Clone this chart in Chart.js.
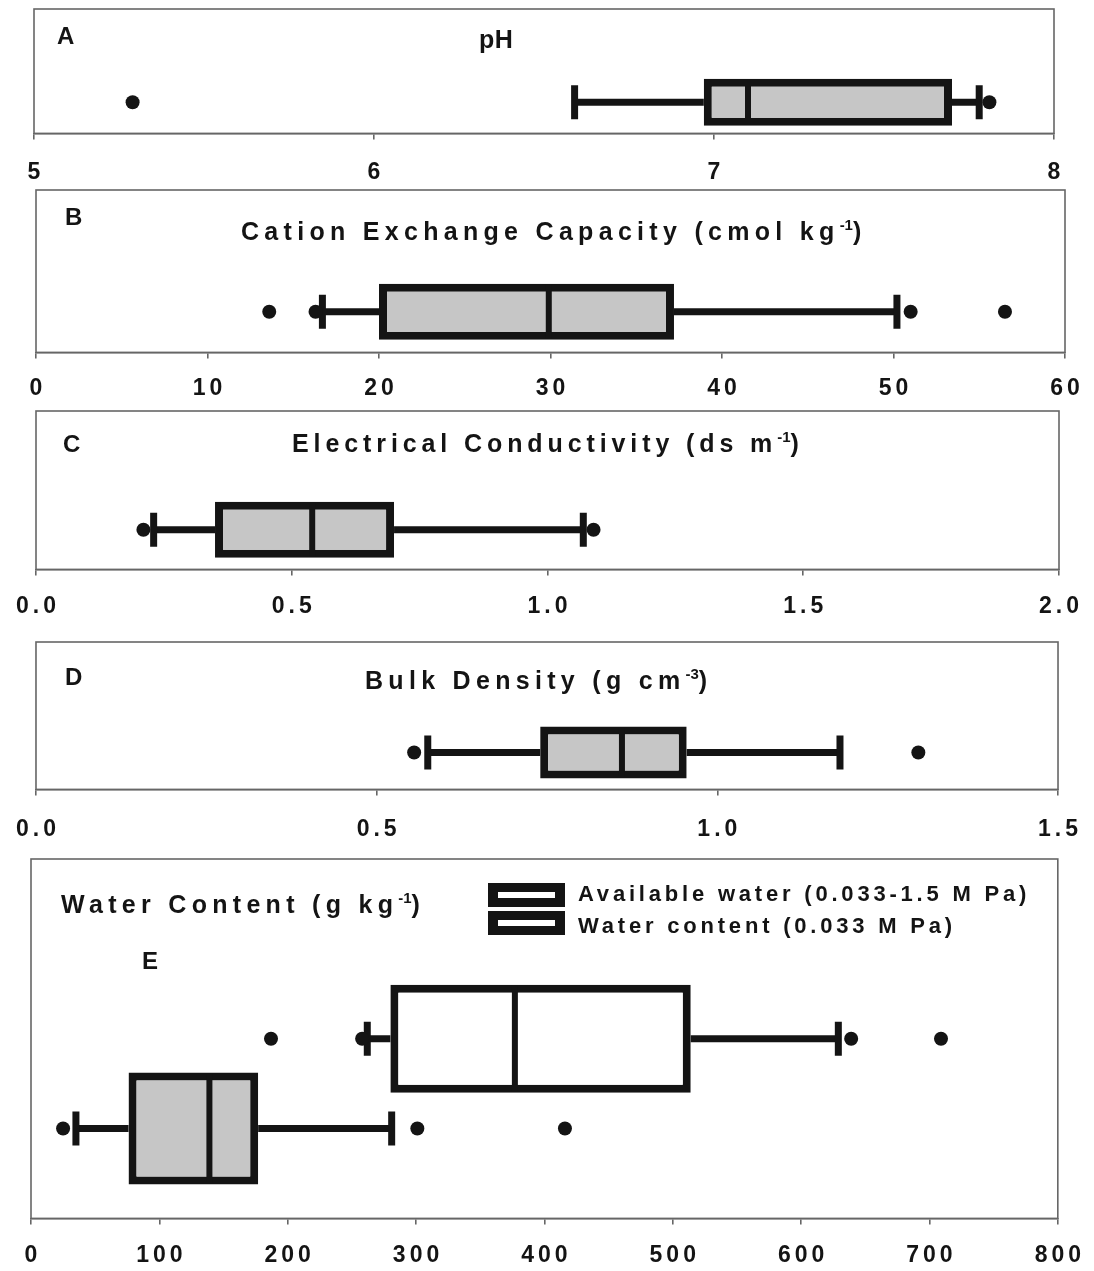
<!DOCTYPE html>
<html lang="en">
<head>
<meta charset="utf-8">
<title>Soil properties – box plots</title>
<script src="https://cdn.jsdelivr.net/npm/chart.js@4.4.1/dist/chart.umd.min.js"></script>
<style>
  html, body { margin: 0; padding: 0; background: #fff; }
  body {
    position: relative; width: 1094px; height: 1271px; overflow: hidden;
    font-family: "Liberation Sans", Arial, sans-serif; font-weight: bold; color: #141414;
  }
  canvas { position: absolute; left: 0; }
  .title { position: absolute; font-size: 25px; line-height: 25px; letter-spacing: 5.3px; white-space: nowrap; }
  .letter { position: absolute; font-size: 24px; line-height: 24px; white-space: nowrap; }
  .key { position: absolute; font-size: 22px; line-height: 22px; letter-spacing: 3.8px; white-space: nowrap; }
  sup { font-size: 15px; line-height: 0; vertical-align: 0; position: relative; top: -10px; letter-spacing: 0; }
  .swatch {
    position: absolute; left: 488px; width: 57px; height: 6px; background: #fff;
    border: 9px solid #141414; border-left-width: 10px; border-right-width: 10px;
  }
</style>
</head>
<body>
<canvas id="chartA"></canvas>
<canvas id="chartB"></canvas>
<canvas id="chartC"></canvas>
<canvas id="chartD"></canvas>
<canvas id="chartE"></canvas>

<div class="letter" style="left:57px;top:24px">A</div>
<div class="title" style="left:479px;top:27px;letter-spacing:0.5px">pH</div>

<div class="letter" style="left:65px;top:205px">B</div>
<div class="title" style="left:241px;top:219px">Cation Exchange Capacity (cmol kg<sup>-1</sup>)</div>

<div class="letter" style="left:63px;top:432px">C</div>
<div class="title" style="left:292px;top:431px;letter-spacing:4.9px">Electrical Conductivity (ds m<sup>-1</sup>)</div>

<div class="letter" style="left:65px;top:665px">D</div>
<div class="title" style="left:365px;top:668px">Bulk Density (g cm<sup>-3</sup>)</div>

<div class="title" style="left:61px;top:892px">Water Content (g kg<sup>-1</sup>)</div>
<div class="letter" style="left:142px;top:949px">E</div>

<div class="swatch" style="top:883px"></div>
<div class="key" style="left:578px;top:883px">Available water (0.033-1.5 M Pa)</div>
<div class="swatch" style="top:911px"></div>
<div class="key" style="left:578px;top:915px">Water content (0.033 M Pa)</div>

<script>
// ---- data -------------------------------------------------------------
// A: pH
const phTicks = [5, 6, 7, 8];
const phTickLabels = ['5', '6', '7', '8'];
const phWhiskers = [6.59, 7.78];          // lower / upper whisker ends
const phQuartiles = [6.97, 7.10, 7.70];   // Q1, median, Q3
const phOutliers = [5.29, 7.81];

// B: cation exchange capacity (cmol kg-1)
const cecTicks = [0, 10, 20, 30, 40, 50, 60];
const cecTickLabels = ['0', '10', '20', '30', '40', '50', '60'];
const cecWhiskers = [16.7, 50.2];
const cecQuartiles = [20.0, 29.9, 37.2];
const cecOutliers = [13.6, 16.3, 51.0, 56.5];

// C: electrical conductivity (ds m-1)
const ecTicks = [0, 0.5, 1.0, 1.5, 2.0];
const ecTickLabels = ['0.0', '0.5', '1.0', '1.5', '2.0'];
const ecWhiskers = [0.23, 1.07];
const ecQuartiles = [0.35, 0.54, 0.70];
const ecOutliers = [0.21, 1.09];

// D: bulk density (g cm-3)
const bdTicks = [0, 0.5, 1.0, 1.5];
const bdTickLabels = ['0.0', '0.5', '1.0', '1.5'];
const bdWhiskers = [0.575, 1.18];
const bdQuartiles = [0.74, 0.86, 0.955];
const bdOutliers = [0.555, 1.295];

// E: water content (g kg-1)
const waterTicks = [0, 100, 200, 300, 400, 500, 600, 700, 800];
const waterTickLabels = ['0', '100', '200', '300', '400', '500', '600', '700', '800'];
// water content at 0.033 MPa
const wcWhiskers = [262, 629];
const wcQuartiles = [280, 377, 514];
const wcOutliers = [187, 258, 639, 709];
// available water (0.033-1.5 MPa)
const awWhiskers = [35, 281];
const awQuartiles = [76, 139, 177];
const awOutliers = [25, 301, 416];

// ---- styling ----------------------------------------------------------
const INK = '#141414';
const FRAME = '#666666';
const SHADE = '#c6c6c6';
const FONT = '"Liberation Sans", Arial, sans-serif';

// draws the rectangle around each plot area
const framePlugin = {
  id: 'frame',
  beforeDatasetsDraw(chart) {
    const { ctx, chartArea: a } = chart;
    ctx.save();
    ctx.strokeStyle = FRAME;
    ctx.lineWidth = 1.6;
    ctx.strokeRect(a.left, a.top, a.right - a.left, a.bottom - a.top);
    ctx.restore();
  }
};

// wider spacing for the axis numerals
const spacingPlugin = {
  id: 'tickSpacing',
  beforeDraw(chart) { chart.ctx.letterSpacing = '4px'; }
};

// one horizontal box plot: whiskers, box, median bar, caps, outliers
function boxSeries(row, whiskers, quartiles, outliers, fill, thickness) {
  const [lo, hi] = whiskers;
  const [q1, med, q3] = quartiles;
  const whisker = (a, b) => ({
    type: 'line', data: [{ x: a, y: row }, { x: b, y: row }],
    borderColor: INK, borderWidth: 7, pointRadius: 0, pointHitRadius: 0,
    showLine: true, fill: false, tension: 0, order: 3
  });
  return [
    whisker(lo, q1),
    whisker(q3, hi),
    {
      type: 'bar', indexAxis: 'y', grouped: false, barThickness: thickness,
      data: [{ x: [q1, q3], y: row }],
      backgroundColor: fill, borderColor: INK, borderWidth: 8, borderSkipped: false,
      inflateAmount: 0, order: 2
    },
    {
      // median
      type: 'scatter', data: [{ x: med, y: row }],
      pointStyle: 'line', pointRotation: 90, pointRadius: thickness / 2 - 2,
      pointBorderWidth: 6, pointBorderColor: INK, pointBackgroundColor: INK, order: 1
    },
    {
      // whisker caps
      type: 'scatter', data: [{ x: lo, y: row }, { x: hi, y: row }],
      pointStyle: 'line', pointRotation: 90, pointRadius: 17,
      pointBorderWidth: 7, pointBorderColor: INK, pointBackgroundColor: INK, order: 1
    },
    {
      type: 'scatter', data: outliers.map(v => ({ x: v, y: row })),
      pointStyle: 'circle', pointRadius: 7, pointBorderWidth: 0,
      pointBackgroundColor: INK, pointBorderColor: INK, order: 0
    }
  ];
}

function makePanel(id, frame, range, tickValues, tickLabels, labelGap, datasets) {
  const padTop = 8, tickLength = 6, tickSize = 23;
  const axisHeight = tickLength + 2 * labelGap + tickSize * 1.2;
  const h = Math.round(frame.b - frame.t + padTop + axisHeight);
  const canvas = document.getElementById(id);
  canvas.width = 1094;
  canvas.height = h;
  canvas.style.width = '1094px';
  canvas.style.height = h + 'px';
  canvas.style.top = (frame.t - padTop) + 'px';

  return new Chart(canvas, {
    type: 'scatter',
    data: { datasets },
    options: {
      responsive: false,
      animation: false,
      events: [],
      layout: { autoPadding: false, padding: { left: frame.l, right: 1094 - frame.r, top: padTop, bottom: 0 } },
      plugins: { legend: { display: false }, tooltip: { enabled: false } },
      scales: {
        x: {
          type: 'linear', min: range[0], max: range[1], offset: false,
          afterBuildTicks: s => { s.ticks = tickValues.map(v => ({ value: v })); },
          ticks: {
            callback: (v, i) => tickLabels[i],
            autoSkip: false, maxRotation: 0, padding: labelGap, labelOffset: 2,
            color: INK, font: { family: FONT, size: tickSize, weight: 'bold' }
          },
          grid: { drawOnChartArea: false, drawTicks: true, tickLength, color: FRAME, lineWidth: 1.6, offset: false },
          border: { display: true, color: FRAME, width: 1.6 }
        },
        y: {
          type: 'linear', min: 0, max: 4, reverse: true, display: false,
          offset: false, grid: { offset: false }
        }
      }
    },
    plugins: [framePlugin, spacingPlugin]
  });
}

makePanel('chartA', { l: 34, r: 1054, t: 9, b: 133 }, [5, 8], phTicks, phTickLabels, 19,
  boxSeries(3, phWhiskers, phQuartiles, phOutliers, SHADE, 47));

makePanel('chartB', { l: 36, r: 1065, t: 190, b: 352 }, [0, 60], cecTicks, cecTickLabels, 16,
  boxSeries(3, cecWhiskers, cecQuartiles, cecOutliers, SHADE, 56));

makePanel('chartC', { l: 36, r: 1059, t: 411, b: 569 }, [0, 2], ecTicks, ecTickLabels, 17,
  boxSeries(3, ecWhiskers, ecQuartiles, ecOutliers, SHADE, 56));

makePanel('chartD', { l: 35, r: 1059, t: 642, b: 789 }, [0, 1.5], bdTicks, bdTickLabels, 20,
  boxSeries(3, bdWhiskers, bdQuartiles, bdOutliers, SHADE, 52));

makePanel('chartE', { l: 31, r: 1059, t: 859, b: 1218 }, [0, 800], waterTicks, waterTickLabels, 17,
  [
    ...boxSeries(2, wcWhiskers, wcQuartiles, wcOutliers, '#ffffff', 108),
    ...boxSeries(3, awWhiskers, awQuartiles, awOutliers, SHADE, 112)
  ]);
</script>
</body>
</html>
